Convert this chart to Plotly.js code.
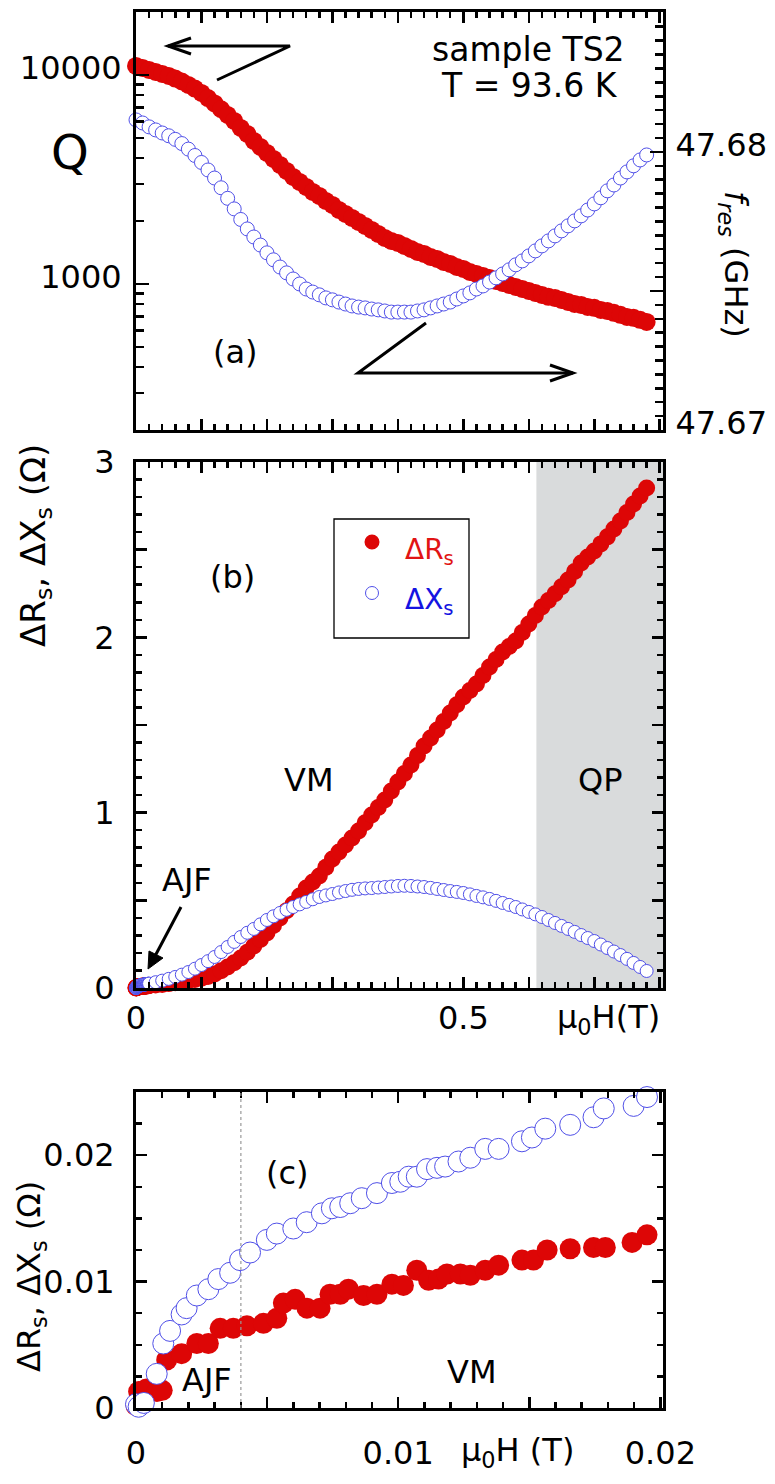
<!DOCTYPE html>
<html><head><meta charset="utf-8">
<script src="https://cdn.plot.ly/plotly-3.0.1.min.js"></script>
<style>html,body{margin:0;padding:0;background:#fff;}#c{width:775px;height:1484px;}</style>
</head><body><div id="c"></div>
<script>
// ---------- DATA ----------
// Panel (a): field (T), quality factor Q (left log axis), resonance frequency (GHz, right axis)
const H_a = [0,0.01,0.02,0.03,0.04,0.05,0.06,0.07,0.08,0.09,0.10,0.11,0.12,0.13,0.14,0.15,0.16,0.17,0.18,0.19,0.20,0.21,0.22,0.23,0.24,0.25,0.26,0.27,0.28,0.29,0.30,0.31,0.32,0.33,0.34,0.35,0.36,0.37,0.38,0.39,0.40,0.41,0.42,0.43,0.44,0.45,0.46,0.47,0.48,0.49,0.50,0.51,0.52,0.53,0.54,0.55,0.56,0.57,0.58,0.59,0.60,0.61,0.62,0.63,0.64,0.65,0.66,0.67,0.68,0.69,0.70,0.71,0.72,0.73,0.74,0.75,0.76,0.77,0.78];
const Q_a = [11042,10802,10566,10336,10111,9890,9600,9300,8950,8600,8200,7750,7300,6850,6436,6024,5577,5220,4833,4524,4234,3964,3710,3473,3251,3077,2912,2756,2637,2496,2388,2260,2162,2069,1980,1895,1813,1735,1660,1606,1571,1520,1470,1423,1392,1347,1317,1274,1247,1206,1180,1141,1116,1092,1068,1034,1011,989,967,946,926,906,886,867,857,838,820,802,793,776,768,751,743,727,711,695,688,673,658];
const fres_a = [47.68115,47.68104,47.68090,47.68079,47.68068,47.68058,47.68045,47.68030,47.68010,47.67987,47.67962,47.67935,47.67906,47.67871,47.67833,47.67795,47.67757,47.67723,47.67694,47.67665,47.67637,47.67612,47.67586,47.67565,47.67543,47.67525,47.67507,47.67496,47.67486,47.67475,47.67468,47.67460,47.67453,47.67446,47.67442,47.67439,47.67435,47.67432,47.67428,47.67424,47.67424,47.67424,47.67424,47.67428,47.67432,47.67439,47.67446,47.67453,47.67460,47.67471,47.67482,47.67493,47.67507,47.67518,47.67532,47.67547,47.67561,47.67576,47.67594,47.67608,47.67626,47.67644,47.67662,47.67680,47.67698,47.67716,47.67734,47.67752,47.67770,47.67791,47.67813,47.67835,47.67860,47.67881,47.67906,47.67928,47.67950,47.67971,47.67989];

// Panel (b): field (T), surface resistance / reactance change (Ohm), above 0.02 T
const H_b = [0.02,0.03,0.04,0.05,0.06,0.07,0.08,0.09,0.10,0.11,0.12,0.13,0.14,0.15,0.16,0.17,0.18,0.19,0.20,0.21,0.22,0.23,0.24,0.25,0.26,0.27,0.28,0.29,0.30,0.31,0.32,0.33,0.34,0.35,0.36,0.37,0.38,0.39,0.40,0.41,0.42,0.43,0.44,0.45,0.46,0.47,0.48,0.49,0.50,0.51,0.52,0.53,0.54,0.55,0.56,0.57,0.58,0.59,0.60,0.61,0.62,0.63,0.64,0.65,0.66,0.67,0.68,0.69,0.70,0.71,0.72,0.73,0.74,0.75,0.76,0.77,0.78];
const dRs_b = [0.014,0.017,0.020,0.025,0.030,0.035,0.041,0.048,0.055,0.066,0.080,0.098,0.120,0.144,0.171,0.204,0.240,0.276,0.314,0.356,0.399,0.440,0.479,0.525,0.570,0.604,0.639,0.688,0.736,0.776,0.816,0.856,0.896,0.942,0.987,1.030,1.072,1.124,1.175,1.224,1.272,1.326,1.380,1.426,1.472,1.520,1.569,1.615,1.660,1.697,1.734,1.782,1.831,1.874,1.917,1.948,1.979,2.028,2.076,2.125,2.173,2.210,2.248,2.288,2.327,2.376,2.424,2.458,2.493,2.533,2.573,2.618,2.664,2.712,2.761,2.806,2.852];
const dXs_b = [0.025,0.033,0.042,0.052,0.063,0.076,0.091,0.110,0.131,0.153,0.177,0.205,0.234,0.263,0.291,0.315,0.337,0.363,0.388,0.409,0.428,0.446,0.462,0.477,0.491,0.506,0.519,0.528,0.536,0.545,0.553,0.560,0.565,0.568,0.570,0.573,0.576,0.579,0.582,0.583,0.582,0.579,0.576,0.571,0.565,0.559,0.553,0.548,0.542,0.534,0.525,0.517,0.508,0.497,0.485,0.474,0.462,0.448,0.434,0.420,0.405,0.388,0.371,0.354,0.337,0.320,0.302,0.285,0.268,0.248,0.228,0.208,0.188,0.166,0.143,0.120,0.097];

// Panel (c): low-field data (T, Ohm)
const Hc_R = [0,0.0001,0.0004,0.0008,0.0010,0.00117,0.00174,0.00232,0.00276,0.00321,0.00371,0.00423,0.00486,0.00537,0.00562,0.00607,0.00652,0.00702,0.00740,0.00779,0.00810,0.00868,0.00919,0.00976,0.01020,0.01071,0.01116,0.01154,0.01186,0.01237,0.01275,0.01332,0.01383,0.01472,0.01516,0.01568,0.01656,0.01745,0.01790,0.01892,0.01949];
const dRs_c = [0.0002,0.0013,0.0015,0.0013,0.0014,0.0038,0.0043,0.0051,0.0051,0.0063,0.0063,0.0065,0.0067,0.0071,0.0083,0.0086,0.0079,0.0079,0.0090,0.0090,0.0094,0.0089,0.0090,0.0098,0.0097,0.0109,0.0101,0.0102,0.0106,0.0106,0.0105,0.0109,0.0113,0.0117,0.0117,0.0125,0.0126,0.0127,0.0127,0.0131,0.0137];
const Hc_X = [0,0.0001,0.0003,0.00079,0.00104,0.00130,0.00174,0.00193,0.00232,0.00276,0.00314,0.00359,0.00397,0.00435,0.00499,0.00537,0.00600,0.00651,0.00709,0.00747,0.00779,0.00817,0.00861,0.00919,0.00976,0.01008,0.01040,0.01071,0.01110,0.01148,0.01179,0.01230,0.01275,0.01332,0.01383,0.01472,0.01510,0.01561,0.01656,0.01745,0.01784,0.01898,0.01949];
const dXs_c = [0.0003,0.0001,0.0004,0.0027,0.0051,0.0061,0.0074,0.0079,0.0089,0.0094,0.0102,0.0107,0.0117,0.0123,0.0133,0.0138,0.0142,0.0147,0.0154,0.0158,0.0159,0.0162,0.0166,0.0170,0.0178,0.0179,0.0183,0.0183,0.0189,0.0190,0.0191,0.0195,0.0198,0.0205,0.0205,0.0211,0.0214,0.0221,0.0224,0.0230,0.0237,0.0239,0.0246];

// Tick values / labels
const xTicksB = [0,0.1,0.2,0.3,0.4,0.5,0.6,0.7,0.8];
const xTextB = ['0','','','','','0.5','','',''];
const qTicks = [1000,10000];
const qText = ['1000','10000'];
const qMinor = [200,300,400,500,600,700,800,900,2000,3000,4000,5000,6000,7000,8000,9000,20000];
const fTicks = [47.67,47.675,47.68];
const fText = ['47.67','','47.68'];
const yTicksB = [0,0.5,1,1.5,2,2.5,3];
const yTextB = ['0','','1','','2','','3'];
const xTicksC = [0,0.005,0.01,0.015,0.02];
const xTextC = ['0','','0.01','','0.02'];
const yTicksC = [0,0.01,0.02];
const yTextC = ['0','0.01','0.02'];
const QP_start = 0.6116;
const AJF_limit = 0.004;

// ---------- STYLE / LAYOUT ----------
const W = 775, HH = 1484;
const px = x => x / W, py = y => 1 - y / HH;
const FONT = 'DejaVu Sans';
const RED = 'rgb(221,6,6)';
const BLUE = 'rgb(80,80,232)';
const dom = [px(136), px(663)];
const ax = {showline:true, linewidth:3, linecolor:'#000', ticks:'inside', tickwidth:2.5, tickcolor:'#000',
  showgrid:false, zeroline:false, tickfont:{family:FONT, size:32, color:'#000'}, fixedrange:true};

const traces = [
  {x:H_a, y:Q_a, xaxis:'x', yaxis:'y', type:'scatter', mode:'markers', cliponaxis:false,
   marker:{size:18, color:RED, line:{width:0}}},
  {x:H_a, y:fres_a, xaxis:'x', yaxis:'y4', type:'scatter', mode:'markers', cliponaxis:false,
   marker:{size:14, color:'#fff', line:{width:1, color:BLUE}}},
  {x:Hc_R.concat(H_b), y:dRs_c.concat(dRs_b), xaxis:'x2', yaxis:'y2', type:'scatter', mode:'markers', cliponaxis:false,
   marker:{size:17, color:RED, line:{width:0}}},
  {x:Hc_X.concat(H_b), y:dXs_c.concat(dXs_b), xaxis:'x2', yaxis:'y2', type:'scatter', mode:'markers', cliponaxis:false,
   marker:{size:13, color:'#fff', line:{width:1, color:BLUE}}},
  {x:Hc_R, y:dRs_c, xaxis:'x3', yaxis:'y3', type:'scatter', mode:'markers', cliponaxis:false,
   marker:{size:21, color:RED, line:{width:0}}},
  {x:Hc_X, y:dXs_c, xaxis:'x3', yaxis:'y3', type:'scatter', mode:'markers', cliponaxis:false,
   marker:{size:21, color:'#fff', line:{width:1, color:BLUE}}}
];

const ann = (text, x, y, size, extra) => Object.assign({text, x:px(x), y:py(y), xref:'paper', yref:'paper',
  showarrow:false, xanchor:'center', yanchor:'middle', font:{family:FONT, size, color:'#000'}}, extra || {});

const annotations = [
  ann('sample TS2', 528, 50, 33),
  ann('T = 93.6 K', 529, 85, 33),
  ann('Q', 70, 152, 48),
  ann('(a)', 235, 352, 32),
  ann('<i>f</i><sub><i>res</i></sub> (GHz)', 734, 264, 32, {textangle:90}),
  ann('(b)', 232, 577, 32),
  ann('VM', 309, 780, 32),
  ann('QP', 600, 780, 32),
  ann('AJF', 187, 880, 32),
  ann('ΔR<sub>s</sub>, ΔX<sub>s</sub> (Ω)', 35, 546, 34, {textangle:-90}),
  ann('μ<sub>0</sub>H(T)', 608, 1019, 32),
  ann('ΔR<sub>s</sub>', 403, 551, 28, {xanchor:'left', font:{family:FONT, size:28, color:'rgb(225,20,20)'}}),
  ann('ΔX<sub>s</sub>', 403, 601, 28, {xanchor:'left', font:{family:FONT, size:28, color:'rgb(20,20,225)'}}),
  ann('(c)', 287, 1173, 32),
  ann('AJF', 207, 1380, 32),
  ann('VM', 472, 1372, 32),
  ann('ΔR<sub>s</sub>, ΔX<sub>s</sub> (Ω)', 31, 1277, 32, {textangle:-90}),
  ann('μ<sub>0</sub>H (T)', 517, 1452, 32)
];

const P = (x, y) => px(x) + ',' + py(y);
const lineBlk = {color:'#000', width:3};
const shapes = [
  {type:'rect', xref:'x2', yref:'y2 domain', x0:QP_start, x1:0.805, y0:0, y1:1, fillcolor:'#d9dbdc', line:{width:0}, layer:'below'},
  {type:'line', xref:'x3', yref:'y3 domain', x0:AJF_limit, x1:AJF_limit, y0:0, y1:1, line:{color:'#999', width:1.2, dash:'dot'}},
  {type:'path', xref:'paper', yref:'paper', path:'M'+P(168,46)+'L'+P(290,46)+'L'+P(217,80), line:lineBlk},
  {type:'path', xref:'paper', yref:'paper', path:'M'+P(191,38)+'L'+P(168,46)+'L'+P(191,54), line:lineBlk},
  {type:'path', xref:'paper', yref:'paper', path:'M'+P(426,323)+'L'+P(358,373)+'L'+P(573,373), line:lineBlk},
  {type:'path', xref:'paper', yref:'paper', path:'M'+P(550,365)+'L'+P(573,373)+'L'+P(550,381), line:lineBlk},
  {type:'path', xref:'paper', yref:'paper', path:'M'+P(181,907)+'L'+P(154,958), line:lineBlk},
  {type:'path', xref:'paper', yref:'paper', path:'M'+P(148,969)+'L'+P(149,951)+'L'+P(163,958)+'Z', fillcolor:'#000', line:{color:'#000', width:1}},
  {type:'rect', xref:'paper', yref:'paper', x0:px(334), x1:px(469), y0:py(638), y1:py(519), line:{color:'#000', width:1.3}},
  {type:'circle', xref:'paper', yref:'paper', xsizemode:'pixel', ysizemode:'pixel', xanchor:px(372), yanchor:py(542),
   x0:-7.5, x1:7.5, y0:-7.5, y1:7.5, fillcolor:RED, line:{width:0}},
  {type:'circle', xref:'paper', yref:'paper', xsizemode:'pixel', ysizemode:'pixel', xanchor:px(372), yanchor:py(593),
   x0:-6.5, x1:6.5, y0:-6.5, y1:6.5, fillcolor:'#fff', line:{width:1, color:BLUE}}
];

const layout = {
  width:W, height:HH, margin:{l:0, r:0, t:0, b:0}, paper_bgcolor:'#fff', plot_bgcolor:'rgba(0,0,0,0)',
  showlegend:false, font:{family:FONT, color:'#000'},
  xaxis: Object.assign({}, ax, {domain:dom, anchor:'y', range:[0,0.805], tickmode:'array', tickvals:xTicksB,
    showticklabels:false, ticklen:11, mirror:'ticks', minor:{tickmode:'linear', tick0:0, dtick:0.02, ticklen:6, tickwidth:2.5, tickcolor:'#000', ticks:'inside'}}),
  yaxis: Object.assign({}, ax, {domain:[py(430), py(12)], anchor:'x', type:'log', range:[Math.log10(200), Math.log10(20000)],
    tickmode:'array', tickvals:qTicks, ticktext:qText, ticklen:13, mirror:false, ticklabelstandoff:5, ticklabelshift:-7,
    minor:{tickmode:'array', tickvals:qMinor, ticklen:8, tickwidth:2.5, tickcolor:'#000', ticks:'inside'}}),
  yaxis4: Object.assign({}, ax, {overlaying:'y', side:'right', anchor:'x', range:[47.67, 47.68503],
    tickmode:'array', tickvals:fTicks, ticktext:fText, ticklen:13, ticklabelstandoff:3, ticklabelshift:-7,
    minor:{tickmode:'linear', tick0:47.67, dtick:0.0005, ticklen:8, tickwidth:2.5, tickcolor:'#000', ticks:'inside'}}),
  xaxis2: Object.assign({}, ax, {domain:dom, anchor:'y2', range:[0,0.805], tickmode:'array', tickvals:xTicksB, ticktext:xTextB,
    ticklen:11, mirror:'ticks', ticklabelstandoff:0,
    minor:{tickmode:'linear', tick0:0, dtick:0.02, ticklen:6, tickwidth:2.5, tickcolor:'#000', ticks:'inside'}}),
  yaxis2: Object.assign({}, ax, {domain:[py(988), py(462)], anchor:'x2', range:[0,3], tickmode:'array', tickvals:yTicksB, ticktext:yTextB,
    ticklen:11, mirror:'ticks', ticklabelstandoff:12,
    minor:{tickmode:'linear', tick0:0, dtick:0.1, ticklen:6, tickwidth:2.5, tickcolor:'#000', ticks:'inside'}}),
  xaxis3: Object.assign({}, ax, {domain:dom, anchor:'y3', range:[0,0.0201], tickmode:'array', tickvals:xTicksC, ticktext:xTextC,
    ticklen:11, mirror:'ticks', ticklabelstandoff:15,
    minor:{tickmode:'linear', tick0:0, dtick:0.001, ticklen:6, tickwidth:2.5, tickcolor:'#000', ticks:'inside'}}),
  yaxis3: Object.assign({}, ax, {domain:[py(1408), py(1092)], anchor:'x3', range:[0,0.025], tickmode:'array', tickvals:yTicksC, ticktext:yTextC,
    ticklen:11, mirror:'ticks', ticklabelstandoff:12,
    minor:{tickmode:'linear', tick0:0, dtick:0.0025, ticklen:6, tickwidth:2.5, tickcolor:'#000', ticks:'inside'}}),
  annotations, shapes
};

Plotly.newPlot('c', traces, layout, {displayModeBar:false, staticPlot:true});
</script>
</body></html>
